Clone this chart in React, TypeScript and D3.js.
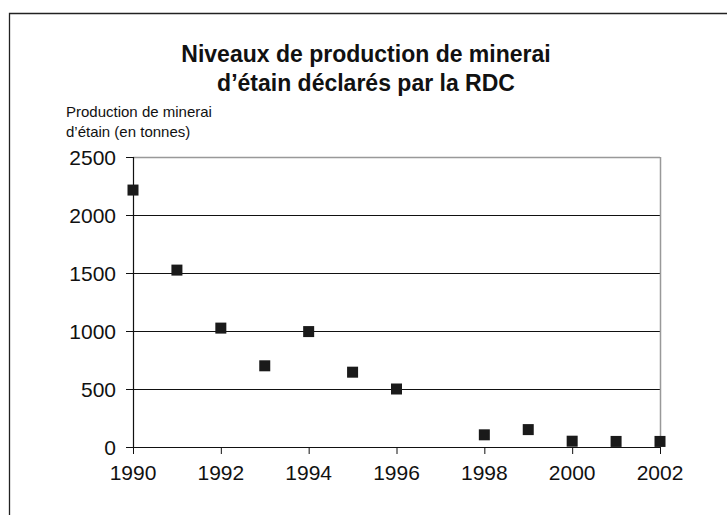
import React from "react";
import * as d3 from "d3";

const years = [1990, 1991, 1992, 1993, 1994, 1995, 1996, 1998, 1999, 2000, 2001, 2002];
const production = [2215, 1525, 1025, 700, 995, 645, 500, 105, 150, 50, 48, 48];
const yTicks = [0, 500, 1000, 1500, 2000, 2500];
const xTicks = [1990, 1992, 1994, 1996, 1998, 2000, 2002];
const titleLines = ["Niveaux de production de minerai", "d\u2019étain déclarés par la RDC"];
const yTitleLines = ["Production de minerai", "d\u2019étain (en tonnes)"];

export default function App() {
  const W = 727, H = 515;
  const left = 133, right = 660, top = 157, bottom = 447;
  const x = d3.scaleLinear().domain([1990, 2002]).range([left, right]);
  const y = d3.scaleLinear().domain([0, 2500]).range([bottom, top]);
  const font = "'Liberation Sans', Arial, Helvetica, sans-serif";
  const s = 11;
  return (
    <svg width={W} height={H} style={{ position: "absolute", left: 0, top: 0, background: "#fff" }} fontFamily={font}>
      <rect x={0} y={0} width={W} height={H} fill="#fff" />
      <path d={`M9.5,${H} V13.5 H${W}`} fill="none" stroke="#222" strokeWidth={1.3} />
      {titleLines.map((t, i) => (
        <text key={t} x={366} y={62 + i * 29} textAnchor="middle" fontSize={23} fontWeight="bold" fill="#111">{t}</text>
      ))}
      {yTitleLines.map((t, i) => (
        <text key={t} x={66} y={117 + i * 20} fontSize={15} fill="#111">{t}</text>
      ))}
      {yTicks.map((v) => (
        <g key={v}>
          <line x1={left - 7} x2={left} y1={y(v) + 0.5} y2={y(v) + 0.5} stroke="#111" />
          {v > 0 && (
            <line x1={left} x2={right} y1={y(v) + 0.5} y2={y(v) + 0.5} stroke={v === 2500 ? "#999" : "#111"} strokeWidth={v === 2500 ? 1.5 : 1.2} />
          )}
          <text x={116} y={y(v) + 7.5} textAnchor="end" fontSize={21} fill="#111">{v}</text>
        </g>
      ))}
      <line x1={right + 0.5} x2={right + 0.5} y1={top} y2={bottom} stroke="#999" strokeWidth={1.5} />
      <line x1={left + 0.5} x2={left + 0.5} y1={top} y2={bottom} stroke="#111" strokeWidth={1.2} />
      <line x1={left} x2={right} y1={bottom + 0.5} y2={bottom + 0.5} stroke="#111" strokeWidth={1.2} />
      {xTicks.map((v) => (
        <g key={v}>
          <line x1={x(v) + 0.5} x2={x(v) + 0.5} y1={bottom} y2={bottom + 7} stroke="#111" />
          <text x={x(v)} y={480} textAnchor="middle" fontSize={21} fill="#111">{v}</text>
        </g>
      ))}
      {years.map((yr, i) => (
        <rect key={yr} x={x(yr) - s / 2} y={y(production[i]) - s / 2} width={s} height={s} fill="#1a1a1a" />
      ))}
    </svg>
  );
}
